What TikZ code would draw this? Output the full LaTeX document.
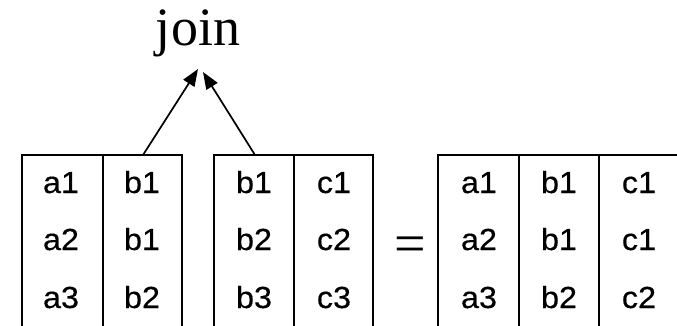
\documentclass[tikz,border=0pt]{standalone}
\usepackage{fontspec}
\setmainfont{Liberation Serif}
\newfontfamily\cellfont[FakeStretch=1.06,FakeBold=0.4]{Liberation Sans}
\usetikzlibrary{arrows.meta}
\begin{document}
\begin{tikzpicture}[x=1pt,y=-1pt,
  tbl/.style={line width=1.7pt},
  cell/.style={font=\cellfont\fontsize{30.5}{30.5}\selectfont, anchor=base, inner sep=0pt},
  arr/.style={line width=1.7pt, -{Triangle[length=17pt,width=13pt]}}]
\useasboundingbox (0,0) rectangle (677,325);
% join label
\node[font=\fontsize{54}{54}\selectfont, anchor=base, inner sep=0pt] (join) at (198,45) {join};
\coordinate (tipL) at (198,69);
\coordinate (tipR) at (203,72);
% table 1
\draw[tbl] (22,326) -- (22,155) -- (182,155) -- (182,326);
\draw[tbl] (103,155) -- (103,326);
% table 2
\draw[tbl] (214,326) -- (214,155) -- (373,155) -- (373,326);
\draw[tbl] (294,155) -- (294,326);
% table 3
\draw[tbl] (438,326) -- (438,155) -- (680,155);
\draw[tbl] (519,155) -- (519,326);
\draw[tbl] (599,155) -- (599,326);
% arrow start points
\coordinate (s1) at (143,155);
\coordinate (s2) at (255,155);
\draw[arr] (s1) -- (tipL);
\draw[arr] (s2) -- (tipR);
% cells table 1
\node[cell] (t1a1) at (61,193) {a1};
\node[cell] (t1a2) at (61,250) {a2};
\node[cell] (t1a3) at (61,308) {a3};
\node[cell] (t1b1) at (142,193) {b1};
\node[cell] (t1b2) at (142,250) {b1};
\node[cell] (t1b3) at (142,308) {b2};
% cells table 2
\node[cell] (t2b1) at (254,193) {b1};
\node[cell] (t2b2) at (254,250) {b2};
\node[cell] (t2b3) at (254,308) {b3};
\node[cell] (t2c1) at (334,193) {c1};
\node[cell] (t2c2) at (334,250) {c2};
\node[cell] (t2c3) at (334,308) {c3};
% equals
\node[font=\fontsize{56}{56}\selectfont, inner sep=0pt] (eq) at (410,250) {=};
% cells table 3
\node[cell] (t3a1) at (479,193) {a1};
\node[cell] (t3a2) at (479,250) {a2};
\node[cell] (t3a3) at (479,308) {a3};
\node[cell] (t3b1) at (559,193) {b1};
\node[cell] (t3b2) at (559,250) {b1};
\node[cell] (t3b3) at (559,308) {b2};
\node[cell] (t3c1) at (639,193) {c1};
\node[cell] (t3c2) at (639,250) {c1};
\node[cell] (t3c3) at (639,308) {c2};
\end{tikzpicture}
\end{document}
